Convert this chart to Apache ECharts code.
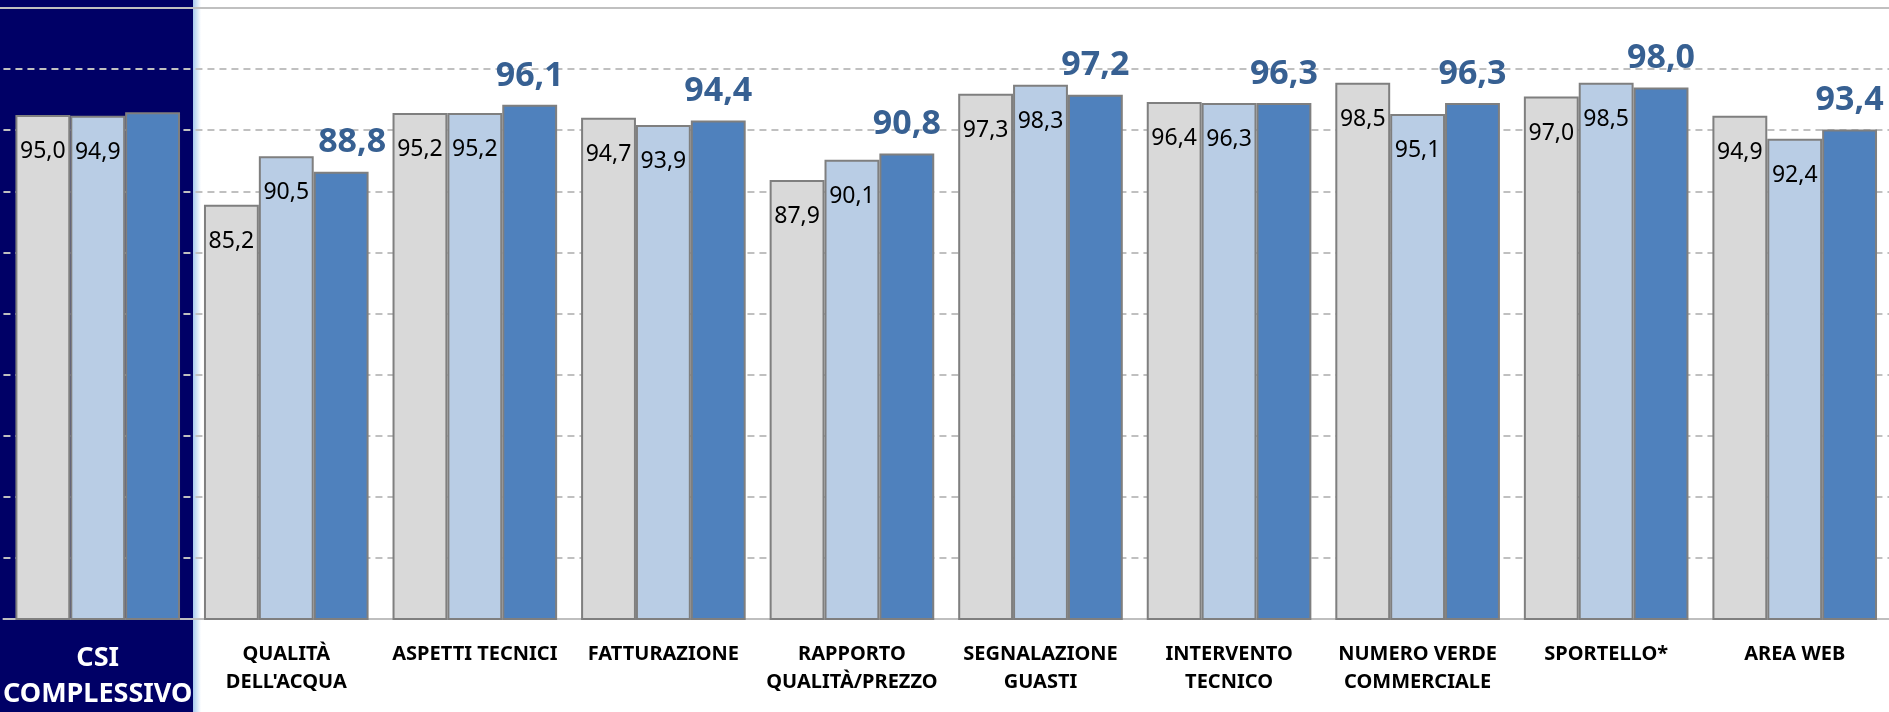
<!DOCTYPE html>
<html>
<head>
<meta charset="utf-8">
<script src="https://cdn.jsdelivr.net/npm/echarts@6/dist/echarts.min.js"></script>
<style>
html,body{margin:0;padding:0;background:#fff;}
#chart{width:1889px;height:712px;}
</style>
</head>
<body>
<div id="chart"></div>
<script>
const categories = ['CSI\nCOMPLESSIVO', "QUALITÀ\nDELL'ACQUA", 'ASPETTI TECNICI', 'FATTURAZIONE', 'RAPPORTO\nQUALITÀ/PREZZO', 'SEGNALAZIONE\nGUASTI', 'INTERVENTO\nTECNICO', 'NUMERO VERDE\nCOMMERCIALE', 'SPORTELLO*', 'AREA WEB'];
const seriesA = [95.0, 85.2, 95.2, 94.7, 87.9, 97.3, 96.4, 98.5, 97.0, 94.9];
const seriesB = [94.9, 90.5, 95.2, 93.9, 90.1, 98.3, 96.3, 95.1, 98.5, 92.4];
const seriesC = [95.3, 88.8, 96.1, 94.4, 90.8, 97.2, 96.3, 96.3, 98.0, 93.4];
const seriesNames = ['Serie 1', 'Serie 2', 'Serie 3'];

const yMin = 40, yStep = 20 / 3, yMax = 40 + 10 * 20 / 3;
const FONT = '"Noto Sans", "Open Sans", sans-serif';
const fmt = p => p.value.toFixed(1).replace('.', ',');

const chart = echarts.init(document.getElementById('chart'), null, {renderer: 'canvas'});

const innerLabel = {
  show: true, position: 'insideTop', distance: 25,
  color: '#000', fontSize: 23, fontFamily: FONT, formatter: fmt
};
const barStyle = c => ({color: c, borderColor: '#7F7F7F', borderWidth: 2});

const baseGraphics = [
  {type: 'rect', z: -10, shape: {x: 0, y: 0, width: 193, height: 712}, style: {fill: '#000066'}},
  {type: 'rect', z: -10, shape: {x: 193, y: 0, width: 8, height: 712},
   style: {fill: new echarts.graphic.LinearGradient(0, 0, 1, 0, [{offset: 0, color: '#a9cbef'}, {offset: 1, color: '#ffffff'}])}}
];

chart.setOption({
  animation: false,
  backgroundColor: '#fff',
  graphic: baseGraphics,
  grid: {left: 3, right: 0, top: 8, bottom: 92, containLabel: false},
  xAxis: {
    type: 'category', data: categories,
    axisLine: {show: true, lineStyle: {color: '#BFBFBF', width: 2}},
    axisTick: {show: false},
    axisLabel: {
      interval: 0, margin: 21, color: '#000', fontSize: 20, fontWeight: 'bold',
      fontFamily: FONT, lineHeight: 28,
      formatter: (v, i) => i === 0 ? v.split('\n').map(s => '{csi|' + s + '}').join('\n') : v,
      rich: {csi: {color: '#fff', fontSize: 27, fontWeight: 'bold', fontFamily: FONT, lineHeight: 36}}
    }
  },
  yAxis: {
    type: 'value', min: yMin, max: yMax, interval: yStep,
    axisLabel: {show: false}, axisLine: {show: false}, axisTick: {show: false},
    splitLine: {show: true, lineStyle: {color: '#C0C0C0', width: 2, type: [7, 5]}}
  },
  series: [
    {name: seriesNames[0], type: 'bar', data: seriesA, barGap: '0%', barCategoryGap: '12.7%',
     itemStyle: barStyle('#D9D9D9'), label: innerLabel},
    {name: seriesNames[1], type: 'bar', data: seriesB, barGap: '0%', barCategoryGap: '12.7%',
     itemStyle: barStyle('#B9CDE5'), label: innerLabel},
    {name: seriesNames[2], type: 'bar', barGap: '0%', barCategoryGap: '12.7%',
     data: seriesC.map((v, i) => i === 0 ? {value: v, label: {show: false}} : (i === 1 ? {value: v, label: {offset: [11, 0]}} : v)),
     itemStyle: barStyle('#4F81BD'),
     label: {show: true, position: 'top', distance: 12, color: '#376092', fontSize: 34, fontWeight: 'bold', fontFamily: FONT, formatter: fmt}
    }
  ]
});

// solid top border line at the axis maximum
const topY = chart.convertToPixel({yAxisIndex: 0}, yMax);
chart.setOption({
  graphic: baseGraphics.concat([
    {type: 'line', z: 5, shape: {x1: 0, y1: topY, x2: 1889, y2: topY}, style: {stroke: '#C0C0C0', lineWidth: 2}}
  ])
});
</script>
</body>
</html>
